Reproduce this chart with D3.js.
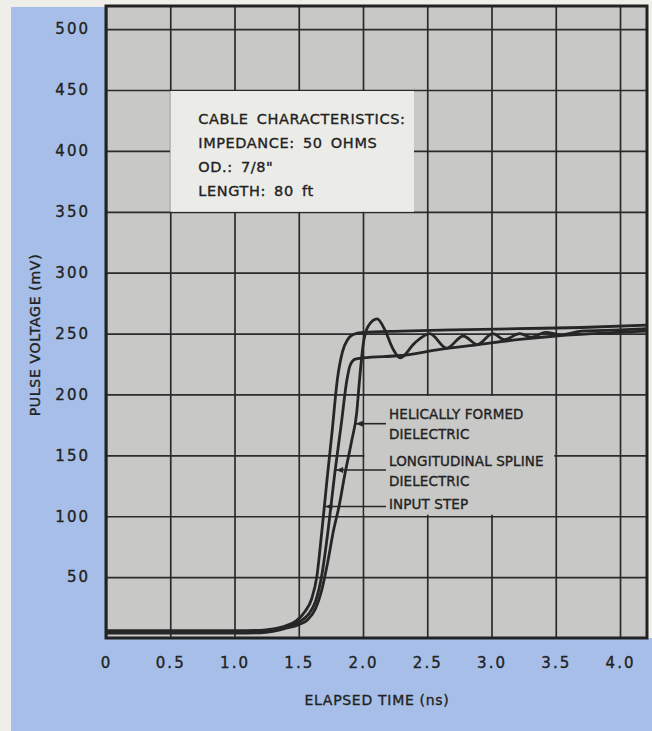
<!DOCTYPE html>
<html>
<head>
<meta charset="utf-8">
<script src="https://cdn.jsdelivr.net/npm/d3@7"></script>
<style>
  body { margin: 0; background: #efeee9; }
  text { font-family: "DejaVu Sans", sans-serif; fill: #222; stroke: #222; stroke-width: 0.35px; }
</style>
</head>
<body>
<div id="chart"></div>
<script>
// CONSTANTS
const WIDTH = 652;
const HEIGHT = 731;
const PLOT = { left: 106, right: 647, top: 6, bottom: 638 };
const PAPER = "#c8c8c6";

// tick values / labels
const xTicks = [0, 0.5, 1.0, 1.5, 2.0, 2.5, 3.0, 3.5, 4.0];
const xTickLabels = ["0", "0.5", "1.0", "1.5", "2.0", "2.5", "3.0", "3.5", "4.0"];
const yTicks = [50, 100, 150, 200, 250, 300, 350, 400, 450, 500];
const yTickLabels = ["50", "100", "150", "200", "250", "300", "350", "400", "450", "500"];

// curves, [elapsed time (ns), pulse voltage (mV)]
const inputStep = [
  [0, 6], [0.5, 6], [1.0, 6], [1.2, 6.3], [1.3, 7.5], [1.4, 10], [1.48, 14],
  [1.55, 22], [1.6, 32], [1.64, 50], [1.68, 88], [1.72, 130], [1.76, 170],
  [1.8, 212], [1.84, 235], [1.88, 245], [1.92, 249], [2.0, 251], [2.3, 252],
  [2.7, 253], [3.2, 254], [3.7, 255], [4.21, 257]
];
const longitudinalSpline = [
  [0, 5], [0.5, 5], [1.0, 5], [1.2, 5.3], [1.3, 6.5], [1.4, 9], [1.5, 13],
  [1.58, 20], [1.63, 30], [1.68, 52], [1.73, 90], [1.78, 135], [1.83, 175],
  [1.875, 212], [1.9, 224], [1.94, 229], [2.0, 230], [2.3, 232], [2.6, 237],
  [2.9, 241], [3.2, 245], [3.5, 248], [3.8, 250], [4.21, 252]
];
const helicallyFormed = [
  [0, 4], [0.5, 4], [1.0, 4], [1.2, 4.3], [1.3, 5.5], [1.4, 8], [1.5, 11],
  [1.57, 15], [1.63, 24], [1.68, 40], [1.725, 62], [1.77, 88], [1.813, 108],
  [1.86, 135], [1.912, 162], [1.95, 184], [1.973, 212], [2.0, 240], [2.04, 256],
  [2.11, 262], [2.17, 253], [2.23, 238], [2.29, 230], [2.4, 242], [2.52, 250],
  [2.65, 238], [2.78, 248], [2.89, 241], [3.01, 250], [3.1, 245], [3.22, 250],
  [3.31, 247], [3.42, 251], [3.55, 249], [3.7, 252], [4.0, 253], [4.21, 254]
];

// annotations
const boxLines = ["CABLE CHARACTERISTICS:", "IMPEDANCE: 50 OHMS", "OD.: 7/8\"", "LENGTH: 80 ft"];
const curveLabels = [["HELICALLY FORMED", "DIELECTRIC"], ["LONGITUDINAL SPLINE", "DIELECTRIC"], ["INPUT STEP"]];
const labelLevels = [176, 138, 108]; // mV where each leader meets its curve
const curves = [helicallyFormed, longitudinalSpline, inputStep];

const svg = d3.select("#chart")
  .append("svg")
  .attr("width", WIDTH)
  .attr("height", HEIGHT);

// blue panel (left strip + bottom strip)
svg.append("rect")
  .attr("x", 11).attr("y", 7)
  .attr("width", WIDTH - 11).attr("height", HEIGHT - 7)
  .attr("fill", "#a7bfe8");
svg.append("rect")
  .attr("x", PLOT.right).attr("y", 0)
  .attr("width", WIDTH - PLOT.right).attr("height", PLOT.bottom)
  .attr("fill", "#efeee9");

const x = d3.scaleLinear().domain([0, 4.21]).range([PLOT.left, PLOT.right]);
const y = d3.scaleLinear().domain([0, 519]).range([PLOT.bottom, PLOT.top]);

// plot background
svg.append("rect")
  .attr("x", PLOT.left).attr("y", PLOT.top)
  .attr("width", PLOT.right - PLOT.left).attr("height", PLOT.bottom - PLOT.top)
  .attr("fill", PAPER);

// grid via axes
const xAxis = svg.append("g")
  .attr("transform", `translate(0,${PLOT.bottom})`)
  .call(d3.axisBottom(x)
    .tickValues(xTicks)
    .tickSize(-(PLOT.bottom - PLOT.top))
    .tickPadding(25)
    .tickFormat((d, i) => xTickLabels[i]));
const yAxis = svg.append("g")
  .attr("transform", `translate(${PLOT.left},0)`)
  .call(d3.axisLeft(y)
    .tickValues(yTicks)
    .tickSize(-(PLOT.right - PLOT.left))
    .tickPadding(16)
    .tickFormat((d, i) => yTickLabels[i]));

[xAxis, yAxis].forEach(g => {
  g.select(".domain").remove();
  g.selectAll(".tick line").attr("stroke", "#2b2b2b").attr("stroke-width", 1.7);
  g.selectAll(".tick text")
    .attr("font-size", 15)
    .attr("letter-spacing", 2)
    .style("font-family", "'DejaVu Sans', sans-serif")
    .attr("fill", "#222");
});
xAxis.selectAll(".tick text").attr("dy", "0.35em");

// grid left blank behind the curve labels
svg.append("rect")
  .attr("x", x(2.0) + 1.5).attr("y", y(200) + 1.5)
  .attr("width", x(3.5) - x(2.0) - 3).attr("height", y(100) - y(200) - 3)
  .attr("fill", PAPER);

// cable characteristics box
const box = svg.append("g");
box.append("rect")
  .attr("x", x(0.5)).attr("y", y(450) + 1)
  .attr("width", 414 - x(0.5)).attr("height", y(350) - y(450) - 1)
  .attr("fill", "#ebebe8");
box.selectAll("text")
  .data(boxLines)
  .enter()
  .append("text")
  .attr("x", x(0.5) + 28)
  .attr("y", (d, i) => y(450) + 34 + i * 24)
  .attr("font-size", 14.5)
  .attr("letter-spacing", 0.6)
  .attr("word-spacing", 3)
  .text(d => d);

// border
svg.append("rect")
  .attr("x", PLOT.left).attr("y", PLOT.top)
  .attr("width", PLOT.right - PLOT.left).attr("height", PLOT.bottom - PLOT.top)
  .attr("fill", "none")
  .attr("stroke", "#222")
  .attr("stroke-width", 3);

// curves
const line = d3.line()
  .x(d => x(d[0]))
  .y(d => y(d[1]))
  .curve(d3.curveMonotoneX);

svg.append("g")
  .selectAll("path")
  .data(curves)
  .enter()
  .append("path")
  .attr("d", line)
  .attr("fill", "none")
  .attr("stroke", "#262626")
  .attr("stroke-width", 2.8);

// where a curve first reaches a level on its rising edge
const crossT = (series, mv) => {
  for (let i = 1; i < series.length; i++) {
    const a = series[i - 1], b = series[i];
    if (a[1] <= mv && b[1] >= mv) return a[0] + (mv - a[1]) / (b[1] - a[1]) * (b[0] - a[0]);
  }
  return series[0][0];
};

// leaders and labels
const LEADER_END = 386;
const labels = svg.append("g");
curves.forEach((series, i) => {
  const ly = y(labelLevels[i]);
  const lx = x(crossT(series, labelLevels[i]));
  labels.append("line")
    .attr("x1", lx).attr("x2", LEADER_END)
    .attr("y1", ly).attr("y2", ly)
    .attr("stroke", "#262626").attr("stroke-width", 1.6);
  labels.append("path")
    .attr("d", `M${lx + 1},${ly} l7,-3 l0,6 z`)
    .attr("fill", "#262626");
  const lines = curveLabels[i];
  const offs = lines.length === 2 ? [-9, 11] : [-2];
  lines.forEach((t, j) => {
    labels.append("text")
      .attr("x", LEADER_END + 3)
      .attr("y", ly + offs[j])
      .attr("dy", "0.35em")
      .attr("font-size", 13.5)
      .attr("letter-spacing", 0.1)
      .text(t);
  });
});

// axis titles
svg.append("text")
  .attr("x", 377).attr("y", 700)
  .attr("dy", "0.35em")
  .attr("text-anchor", "middle")
  .attr("font-size", 14)
  .attr("letter-spacing", 0.7)
  .text("ELAPSED TIME (ns)");
svg.append("text")
  .attr("transform", "translate(35,335) rotate(-90)")
  .attr("dy", "0.35em")
  .attr("text-anchor", "middle")
  .attr("font-size", 14)
  .attr("letter-spacing", 0.7)
  .text("PULSE VOLTAGE (mV)");
</script>
</body>
</html>
